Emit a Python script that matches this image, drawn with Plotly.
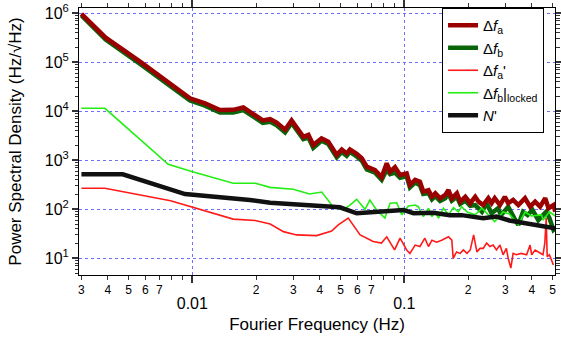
import plotly.graph_objects as go

# ---- data ----
freq_a = [0.003, 0.0039, 0.00567, 0.00975, 0.01148, 0.0135, 0.0156, 0.0174, 0.0215, 0.0233, 0.025, 0.0274,
          0.0294, 0.0334, 0.0353, 0.0372, 0.0407, 0.0438, 0.048, 0.0507, 0.0535, 0.0554, 0.0596, 0.063,
          0.0665, 0.0728, 0.0782, 0.0826, 0.0857, 0.0904, 0.0955, 0.1026, 0.1063, 0.1125, 0.1185, 0.1228,
          0.13, 0.135, 0.14, 0.1475, 0.156, 0.1615, 0.1675, 0.177, 0.1834, 0.194, 0.2047, 0.216,
          0.224, 0.2355, 0.249, 0.258, 0.267, 0.2825, 0.298, 0.309, 0.326, 0.345, 0.371, 0.392,
          0.414, 0.437, 0.462, 0.479, 0.506, 0.515]
psd_a = [968000, 318000, 103000, 18400, 14600, 10600, 10700, 12000, 6500, 6900, 5900, 4200,
         6500, 3000, 3300, 2050, 2800, 2400, 1290, 1660, 1380, 1660, 1350, 1100,
         740, 630, 450, 870, 585, 720, 500, 540, 316, 400, 365, 230,
         245, 180, 213, 167, 196, 247, 167, 212, 143, 180, 133, 180,
         143, 122, 168, 133, 168, 122, 180, 133, 155, 122, 168, 113,
         143, 113, 168, 105, 122, 89]

freq_b = [0.003, 0.0039, 0.00567, 0.00975, 0.01148, 0.0135, 0.0156, 0.0174, 0.0215, 0.0233, 0.025, 0.0274,
          0.0294, 0.0334, 0.0353, 0.0372, 0.0407, 0.0438, 0.048, 0.0507, 0.0535, 0.0554, 0.0596, 0.063,
          0.0665, 0.0728, 0.0782, 0.0826, 0.0857, 0.0904, 0.0955, 0.1026, 0.1063, 0.1125, 0.1185, 0.1228,
          0.13, 0.135, 0.14, 0.1475, 0.156, 0.1615, 0.1675, 0.177, 0.1834, 0.194, 0.2047,
          0.216, 0.2325, 0.2445, 0.258, 0.2765, 0.286, 0.309, 0.33, 0.345, 0.363, 0.3815, 0.4025,
          0.4285, 0.451, 0.467, 0.4835, 0.505, 0.515]
psd_b = [900000, 290000, 93000, 16600, 13000, 9400, 9400, 10600, 5800, 6100, 5200, 3700,
         5800, 2700, 2900, 1800, 2500, 2150, 1150, 1480, 1230, 1480, 1200, 980,
         650, 560, 400, 640, 520, 560, 440, 470, 280, 350, 310, 205,
         215, 160, 185, 148, 168, 210, 150, 180, 128, 150, 118,
         122, 89, 133, 83, 105, 76, 113, 66, 48, 89, 76, 97,
         60, 76, 89, 66, 38, 41]

freq_a2 = [0.003, 0.00387, 0.0079, 0.00993, 0.0156, 0.0198, 0.0233, 0.0269, 0.031, 0.0386, 0.0454, 0.0488,
           0.0544, 0.0619, 0.0713, 0.078, 0.0826, 0.09, 0.0955, 0.1026, 0.1063, 0.1125, 0.1185, 0.125,
           0.13, 0.135, 0.142, 0.15, 0.1615, 0.1675, 0.170, 0.1765, 0.1834, 0.19, 0.1975, 0.2047,
           0.2123, 0.22, 0.2276, 0.2355, 0.2445, 0.2535, 0.2625, 0.272, 0.2825, 0.2925, 0.303, 0.309,
           0.318, 0.326, 0.3375, 0.356, 0.3775, 0.392, 0.399, 0.414, 0.437, 0.451, 0.46, 0.467,
           0.472, 0.4835, 0.505]
psd_a2 = [268, 268, 150, 113, 63, 59, 50, 35, 30, 29, 36, 48,
          66, 30, 22, 20.5, 27.5, 14.8, 25.7, 14.8, 12.6, 18.6, 17.4, 25.7,
          17.4, 23.4, 21.3, 23.4, 27.5, 23.4, 10, 13.5, 12.6, 14.8, 12.6, 14.8,
          30, 13.5, 15.9, 15.9, 20.4, 17.4, 18.6, 14.8, 18.6, 11.8, 15.9, 10,
          6.3, 12.6, 11.8, 12.6, 11.8, 18.6, 11.8, 14.8, 12.6, 11.8, 20.4, 66,
          10.8, 11.8, 7.3]

freq_lock = [0.003, 0.00387, 0.0077, 0.00993, 0.0156, 0.0198, 0.0233, 0.0299, 0.0358, 0.0408, 0.0462, 0.0515,
             0.0554, 0.0596, 0.0653, 0.0688, 0.074, 0.081, 0.0857, 0.0921, 0.0973, 0.1046, 0.1125, 0.1165,
             0.123, 0.13, 0.135, 0.14, 0.145, 0.153, 0.1615, 0.1705, 0.18, 0.1865, 0.198, 0.216,
             0.2325, 0.248, 0.267, 0.292, 0.313, 0.345, 0.371, 0.397, 0.444, 0.451, 0.4835, 0.515]
psd_lock = [11500, 11500, 830, 590, 340, 340, 280, 256, 205, 225, 112, 97,
            122, 160, 100, 155, 97, 66, 133, 136, 77, 117, 122, 113,
            71, 105, 71, 89, 66, 105, 77, 108, 89, 113, 88, 77,
            105, 80, 56, 88, 80, 48, 88, 73, 77, 60, 89, 73]

freq_n = [0.003, 0.0047, 0.00924, 0.0156, 0.0187, 0.0233, 0.0299, 0.0398, 0.0497, 0.0596, 0.074, 0.0989,
          0.1105, 0.137, 0.164, 0.1865, 0.2355, 0.272, 0.313, 0.3775, 0.4365, 0.4985, 0.515]
psd_n = [518, 518, 205, 168, 155, 136, 126, 113, 110, 83, 89, 97,
         83, 85, 76, 76, 66, 71, 59, 52, 46, 41, 41]

major_x = [0.01, 0.1]
major_x_text = ["0.01", "0.1"]
minor_x = [0.003, 0.004, 0.005, 0.006, 0.007, 0.008, 0.009,
           0.02, 0.03, 0.04, 0.05, 0.06, 0.07, 0.08, 0.09,
           0.2, 0.3, 0.4, 0.5]
minor_x_text = ["3", "4", "5", "6", "7", " ", " ",
                "2", "3", "4", "5", "6", "7", " ", " ",
                "2", "3", "4", "5"]
major_y = [1e1, 1e2, 1e3, 1e4, 1e5, 1e6]
major_y_text = ["10<sup>1</sup>", "10<sup>2</sup>", "10<sup>3</sup>",
                "10<sup>4</sup>", "10<sup>5</sup>", "10<sup>6</sup>"]

FONT = "Liberation Sans, Arial, Helvetica, sans-serif"
GRID = "rgb(110,110,255)"

fig = go.Figure()
fig.add_trace(go.Scatter(x=freq_b, y=psd_b, mode="lines", name="Δ<i>f</i><sub>b</sub>",
                         line=dict(color="#0a640a", width=4.5), legendrank=2))
fig.add_trace(go.Scatter(x=freq_a, y=psd_a, mode="lines", name="Δ<i>f</i><sub>a</sub>",
                         line=dict(color="#9a0000", width=4.5), legendrank=1))
fig.add_trace(go.Scatter(x=freq_lock, y=psd_lock, mode="lines", name="Δ<i>f</i><sub>b</sub>|<sub>locked</sub>",
                         line=dict(color="#22ee11", width=1.6), legendrank=4))
fig.add_trace(go.Scatter(x=freq_a2, y=psd_a2, mode="lines", name="Δ<i>f</i><sub>a</sub>'",
                         line=dict(color="#ff1a1a", width=1.6), legendrank=3))
fig.add_trace(go.Scatter(x=freq_n, y=psd_n, mode="lines", name="<i>N</i>'",
                         line=dict(color="#111111", width=4.5), legendrank=5))
# carrier for the minor-label axis (invisible)
fig.add_trace(go.Scatter(x=freq_n[:1], y=psd_n[:1], xaxis="x2", mode="markers",
                         marker=dict(opacity=0), showlegend=False, hoverinfo="skip"))

xr = [-2.5344, -0.2892]
ymin_minor = [m * 10 ** k for k in range(0, 7) for m in range(2, 10)]

fig.update_layout(
    width=561, height=349,
    margin=dict(l=79, r=6, t=8, b=74, autoexpand=False),
    paper_bgcolor="white", plot_bgcolor="white",
    font=dict(family=FONT, color="black"),
    showlegend=True,
    legend=dict(x=0.977, y=1.0, xanchor="right", yanchor="top",
                bordercolor="black", borderwidth=1, bgcolor="white",
                font=dict(size=15, family=FONT), tracegroupgap=0),
    xaxis=dict(type="log", range=xr, tickmode="array", tickvals=major_x, ticktext=major_x_text,
               ticks="outside", ticklen=7, tickwidth=1.5, tickcolor="#333",
               tickfont=dict(size=16), ticklabelstandoff=7, automargin=False,
               showgrid=True, gridcolor=GRID, griddash="dot", gridwidth=1,
               showline=True, linecolor="black", linewidth=1, mirror="ticks", zeroline=False,
               title=dict(text="Fourier Frequency (Hz)", font=dict(size=17), standoff=6)),
    xaxis2=dict(type="log", range=xr, overlaying="x", anchor="y", side="bottom",
                tickmode="array", tickvals=minor_x, ticktext=minor_x_text,
                ticks="outside", ticklen=4, tickwidth=1, tickcolor="#333", automargin=False,
                tickfont=dict(size=12), showgrid=False, showline=False, mirror="ticks",
                zeroline=False),
    yaxis=dict(type="log", range=[0.659, 6.108], tickmode="array", tickvals=major_y, ticktext=major_y_text,
               ticks="outside", ticklen=6, tickwidth=1.5, tickcolor="#333",
               tickfont=dict(size=16), automargin=False,
               minor=dict(tickmode="array", tickvals=ymin_minor, ticks="outside", ticklen=3.5,
                          tickwidth=1, tickcolor="#333", showgrid=False),
               showgrid=True, gridcolor=GRID, griddash="dot", gridwidth=1,
               showline=True, linecolor="black", linewidth=1, mirror="ticks", zeroline=False,
               title=dict(text="Power Spectral Density (Hz/√Hz)", font=dict(size=17), standoff=18)),
)

fig.write_html("out.html", config={"displayModeBar": False},
               post_script="document.body.style.margin='0';")
